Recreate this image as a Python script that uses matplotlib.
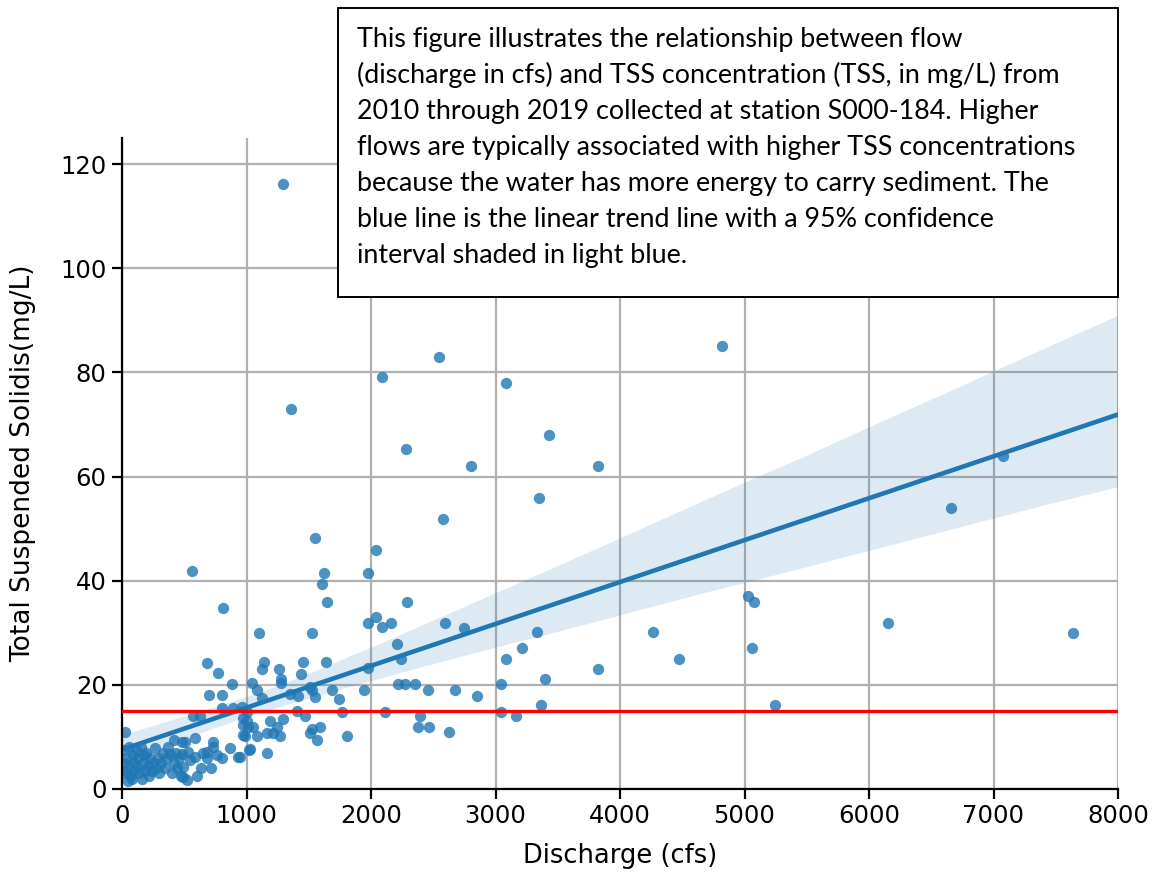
import matplotlib
matplotlib.use("Agg")
import matplotlib.pyplot as plt
from matplotlib.patches import Rectangle
import seaborn as sns
import numpy as np

# Discharge (cfs) and TSS (mg/L)
# (last pair: a sample assumed to sit behind the caption box)
discharge = [
    1293, 4816, 2544, 2090, 3084, 1357, 3428, 2285, 2807, 3825, 7080, 6662, 3347, 2578,
    1548, 2037, 560, 1625, 1973, 1609, 1649, 2287, 5031, 5079, 808, 2040, 1973, 2085,
    2160, 2594, 2750, 6155, 1100, 1527, 3331, 4268, 7636, 2206, 3210, 5063, 2238, 3084,
    4470, 3826, 3398, 2220, 2273, 2353, 3044, 2460, 2675, 2854, 2112, 3044, 3365, 3165,
    2393, 2380, 2469, 2627, 5245,
    1141, 1127, 1263, 1451, 1639, 1435, 1275, 1275, 1042, 1082, 1122, 1349, 1416, 1523,
    1550, 1684, 1745, 1944, 1403, 1470, 1764, 1296, 1189, 1242, 1055, 1001, 988, 1082,
    1162, 1215, 1269, 1523, 1590, 1510, 1564, 1805, 1023, 1162, 948, 1979, 1510,
    881, 701, 806, 801, 894, 961, 1001, 974, 974, 1014, 974, 867, 934, 1028, 586, 733,
    733, 479, 680, 680, 760, 533, 586, 632, 712, 493, 493, 520, 680, 774, 573, 627,
    24, 10, 15, 30, 40, 55, 60, 70, 78, 85, 95, 100, 110, 120, 130, 140, 150, 158, 165,
    175, 185, 195, 205, 215, 225, 240, 250, 265, 275, 290, 300, 315, 330, 345, 360, 372,
    385, 400, 415, 430, 445, 460, 479, 470, 5, 50, 506, 545, 600, 650, 800, 420,
    4200,
]
tss = [
    116.2, 85.1, 82.9, 79.1, 78.0, 73.0, 68.0, 65.2, 62.1, 62.1, 64.0, 54.0, 55.9, 51.8,
    48.1, 45.9, 41.9, 41.5, 41.5, 39.3, 36.0, 36.0, 37.1, 35.9, 34.8, 33.1, 31.9, 31.2,
    31.9, 31.9, 31.0, 31.9, 30.0, 30.0, 30.1, 30.1, 30.0, 27.8, 27.1, 27.1, 24.9, 24.9,
    24.9, 23.0, 21.2, 20.1, 20.1, 20.1, 20.1, 19.0, 19.0, 17.9, 14.8, 14.8, 16.1, 14.1,
    14.1, 12.0, 12.0, 10.9, 16.1,
    24.3, 23.0, 23.0, 24.3, 24.3, 22.0, 21.1, 20.3, 20.3, 19.0, 17.5, 18.2, 17.9, 19.0,
    17.7, 19.0, 17.2, 19.0, 15.0, 14.0, 14.7, 13.5, 13.1, 12.0, 12.0, 13.1, 10.2, 10.2,
    10.7, 10.7, 10.2, 11.5, 12.0, 10.7, 9.4, 10.2, 7.5, 7.0, 6.2, 23.2, 19.5,
    20.2, 18.0, 18.0, 15.5, 15.5, 15.8, 14.8, 13.6, 12.3, 12.0, 10.4, 7.8, 6.1, 7.6, 9.7, 9.1,
    8.1, 9.1, 7.2, 5.9, 6.5, 7.2, 6.2, 4.0, 4.0, 4.3, 2.4, 1.7, 24.1, 22.2, 14.0, 14.0,
    10.9, 7.5, 5.0, 3.5, 6.0, 8.0, 4.5, 2.5, 2.0, 6.5, 5.0, 3.5, 7.5, 4.5, 6.0, 3.0, 8.0, 2.0, 5.0,
    6.5, 3.5, 7.0, 4.5, 2.5, 6.0, 3.5, 5.0, 7.8, 4.0, 6.0, 3.0, 5.0, 7.0, 4.0, 6.0, 8.1,
    6.8, 3.0, 5.0, 7.0, 4.0, 6.0, 6.8, 2.5, 3.0, 1.5, 9.1, 5.5, 2.5, 7.0, 6.0, 9.5,
    119.0,
]
threshold = 15

x_ticks = [0, 1000, 2000, 3000, 4000, 5000, 6000, 7000, 8000]
y_ticks = [0, 20, 40, 60, 80, 100, 120]

caption_lines = [
    "This figure illustrates the relationship between flow",
    "(discharge in cfs) and TSS concentration (TSS, in mg/L) from",
    "2010 through 2019 collected at station S000-184. Higher",
    "flows are typically associated with higher TSS concentrations",
    "because the water has more energy to carry sediment. The",
    "blue line is the linear trend line with a 95% confidence",
    "interval shaded in light blue.",
]

plt.rcParams["font.family"] = ["DejaVu Sans"]

W, H = 1158, 874
fig = plt.figure(figsize=(W / 100, H / 100), dpi=100)
ax = fig.add_axes([122 / W, 1 - 789 / H, (1118 - 122) / W, (789 - 138) / H])
ax.set_xlim(0, 8000)
ax.set_ylim(0, 125)

sns.regplot(x=np.array(discharge, float), y=np.array(tss, float), ax=ax,
            truncate=False, seed=1,
            scatter_kws={"s": 66, "linewidths": 0},
            line_kws={"lw": 3.3})
ax.axhline(threshold, color="red", lw=2.4, zorder=3)

ax.set_xlim(0, 8000)
ax.set_ylim(0, 125)
ax.set_xticks(x_ticks)
ax.set_yticks(y_ticks)
ax.grid(True, color="#b0b0b0", lw=1.6)
ax.set_axisbelow(True)
for s in ("top", "right"):
    ax.spines[s].set_visible(False)
for s in ("left", "bottom"):
    ax.spines[s].set_linewidth(1.6)
ax.tick_params(labelsize=17.5, length=7, width=1.6, colors="black", pad=4)
ax.set_xlabel("Discharge (cfs)", fontsize=18.5, family="DejaVu Sans")
ax.set_ylabel("Total Suspended Solidis(mg/L)", fontsize=19, family="DejaVu Sans")
ax.xaxis.set_label_coords(0.5, (789 - 843) / 651)
ax.yaxis.set_label_coords((36 - 122) / 996, 0.5)

# caption box
fig.patches.append(Rectangle((338 / W, 1 - 297 / H), (1118 - 338) / W, (297 - 8) / H,
                             transform=fig.transFigure, facecolor="white",
                             edgecolor="black", lw=1.4, zorder=5))
for i, line in enumerate(caption_lines):
    fig.text(357 / W, 1 - (47 + 36 * i) / H, line, fontsize=19.4, family="Lato",
             ha="left", va="baseline", zorder=6)

fig.savefig("out.png", dpi=100)
